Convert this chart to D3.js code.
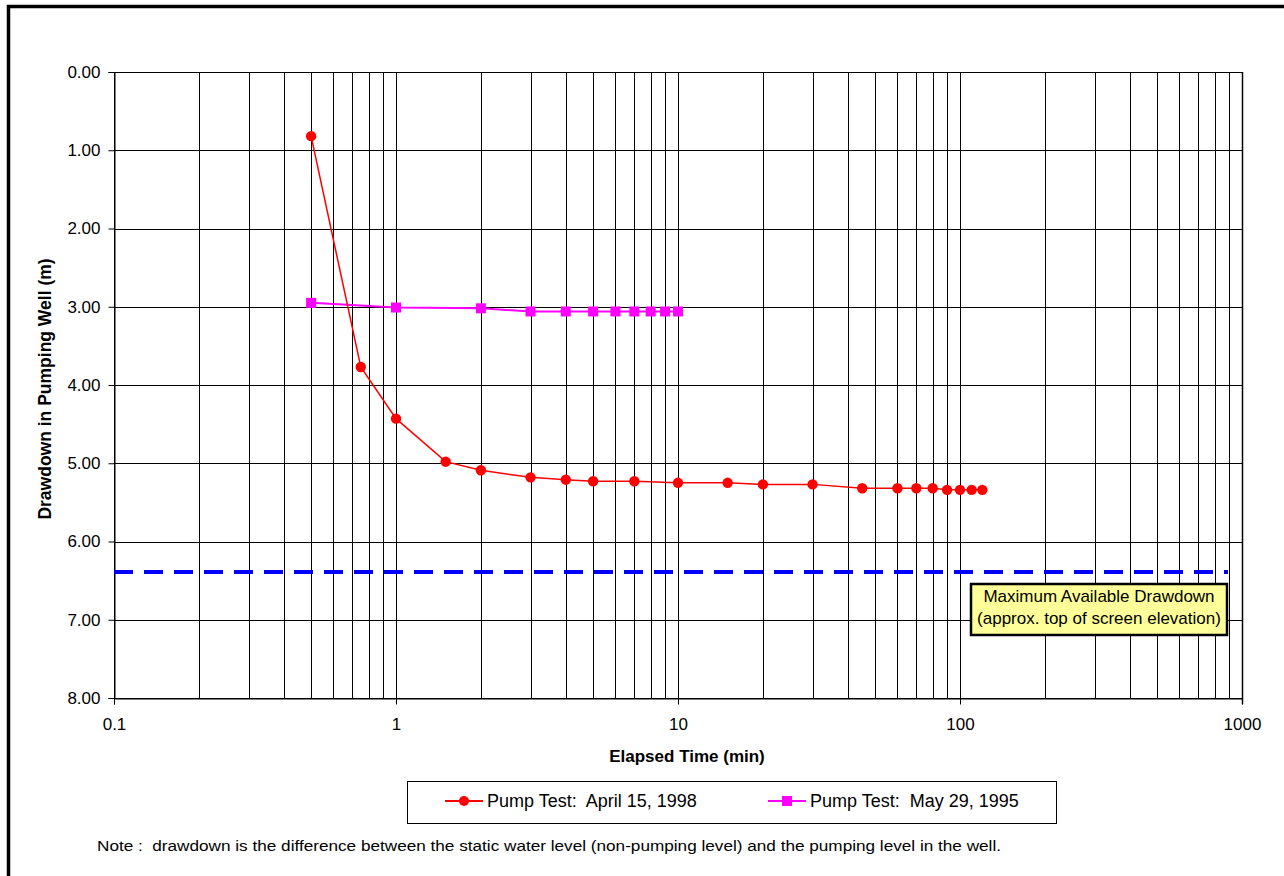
<!DOCTYPE html>
<meta charset="utf-8">
<style>
  body{ margin:0; background:#fff; }
  text{ font-family: Arial, "Liberation Sans", sans-serif; fill:#000; white-space: pre; }
</style>
<svg width="1284" height="876"></svg>
<script src="https://d3js.org/d3.v7.min.js"></script>
<script>
  // data
  const aprilTime = [0.5, 0.75, 1, 1.5, 2, 3, 4, 5, 7, 10, 15, 20, 30, 45, 60, 70, 80, 90, 100, 110, 120]
  const aprilDrawdown = [0.82, 3.77, 4.43, 4.98, 5.09, 5.18, 5.21, 5.23, 5.23, 5.25, 5.25, 5.27, 5.27, 5.32, 5.32, 5.32, 5.32, 5.34, 5.34, 5.34, 5.34]
  const mayTime = [0.5, 1, 2, 3, 4, 5, 6, 7, 8, 9, 10]
  const mayDrawdown = [2.95, 3.01, 3.02, 3.06, 3.06, 3.06, 3.06, 3.06, 3.06, 3.06, 3.06]
  const seriesNames = ['Pump Test:  April 15, 1998', 'Pump Test:  May 29, 1995']
  const maxDrawdown = 6.39
  const xTicks = [0.1, 1, 10, 100, 1000]
  const yTicks = [0, 1, 2, 3, 4, 5, 6, 7, 8]

  const plot = {left: 114, right: 1242, top: 72, bottom: 698}
  const font = 'Arial, "Liberation Sans", sans-serif'

  const svg = d3.select('svg')

  // outer frame (right/bottom edges fall outside the picture)
  svg.append('rect')
    .attr('x', 8.5).attr('y', 6.5)
    .attr('width', 1400).attr('height', 1000)
    .attr('fill', 'none').attr('stroke', '#000').attr('stroke-width', 3.5)

  const xScale = d3.scaleLog().domain([0.1, 1000]).range([plot.left, plot.right])
  const yScale = d3.scaleLinear().domain([0, 8]).range([plot.top, plot.bottom])

  // vertical grid lines, every 1..9 in each decade
  const minor = []
  for (let e = -1; e < 3; e++) {
    for (let m = 1; m < 10; m++) minor.push(m * Math.pow(10, e))
  }
  minor.push(1000)
  svg.append('g')
    .selectAll('line')
    .data(minor)
    .enter()
    .append('line')
    .attr('x1', d => Math.round(xScale(d)) + 0.5)
    .attr('x2', d => Math.round(xScale(d)) + 0.5)
    .attr('y1', plot.top).attr('y2', plot.bottom)
    .attr('stroke', '#000').attr('stroke-width', 1)

  // horizontal grid lines
  svg.append('g')
    .selectAll('line')
    .data(yTicks)
    .enter()
    .append('line')
    .attr('x1', plot.left).attr('x2', plot.right)
    .attr('y1', d => Math.round(yScale(d)) + 0.5)
    .attr('y2', d => Math.round(yScale(d)) + 0.5)
    .attr('stroke', '#000').attr('stroke-width', 1)

  // axes
  const xAxis = d3.axisBottom(xScale).tickValues(xTicks).tickFormat(d3.format('~g')).tickSize(6).tickPadding(13)
  const yAxis = d3.axisLeft(yScale).tickValues(yTicks).tickFormat(d3.format('.2f')).tickSize(6).tickPadding(8)

  const gx = svg.append('g')
    .attr('transform', 'translate(0,' + (plot.bottom + 0.5) + ')')
    .call(xAxis)
  const gy = svg.append('g')
    .attr('transform', 'translate(' + (plot.left + 0.5) + ',0)')
    .call(yAxis)
  ;[gx, gy].forEach(g => {
    g.attr('font-size', 17).attr('font-family', font)
    g.select('.domain').attr('stroke', '#000')
    g.selectAll('.tick line').attr('stroke', '#000')
    g.selectAll('text').attr('fill', '#000')
  })

  // right border of plot area
  svg.append('line')
    .attr('x1', plot.right + 0.5).attr('x2', plot.right + 0.5)
    .attr('y1', plot.top).attr('y2', plot.bottom + 6)
    .attr('stroke', '#000').attr('stroke-width', 1.5)

  // axis titles
  svg.append('text')
    .attr('x', 687).attr('y', 762)
    .attr('text-anchor', 'middle')
    .attr('font-size', 17).attr('font-weight', 'bold')
    .text('Elapsed Time (min)')
  svg.append('text')
    .attr('transform', 'translate(51,' + 389 + ') rotate(-90)')
    .attr('text-anchor', 'middle')
    .attr('font-size', 17.5).attr('font-weight', 'bold')
    .text('Drawdown in Pumping Well (m)')

  // maximum available drawdown line
  svg.append('line')
    .attr('x1', xScale(0.1)).attr('x2', xScale(1000) - 14)
    .attr('y1', yScale(maxDrawdown)).attr('y2', yScale(maxDrawdown))
    .attr('stroke', '#0000ff').attr('stroke-width', 4)
    .attr('stroke-dasharray', '19,11')

  const line = d3.line().x(d => xScale(d[0])).y(d => yScale(d[1]))

  const april = aprilTime.map((t, i) => [t, aprilDrawdown[i]])
  const may = mayTime.map((t, i) => [t, mayDrawdown[i]])

  // May 1995 series
  svg.append('path')
    .datum(may)
    .attr('d', line)
    .attr('fill', 'none').attr('stroke', '#ff00ff').attr('stroke-width', 2)
  svg.append('g')
    .selectAll('rect')
    .data(may)
    .enter()
    .append('rect')
    .attr('x', d => xScale(d[0]) - 5)
    .attr('y', d => yScale(d[1]) - 5)
    .attr('width', 10).attr('height', 10)
    .attr('fill', '#ff00ff')

  // April 1998 series
  svg.append('path')
    .datum(april)
    .attr('d', line)
    .attr('fill', 'none').attr('stroke', '#ff0000').attr('stroke-width', 1.5)
  svg.append('g')
    .selectAll('circle')
    .data(april)
    .enter()
    .append('circle')
    .attr('cx', d => xScale(d[0]))
    .attr('cy', d => yScale(d[1]))
    .attr('r', 5.2)
    .attr('fill', '#ff0000')

  // annotation box
  const note = svg.append('g')
  note.append('rect')
    .attr('x', 971).attr('y', 584)
    .attr('width', 256).attr('height', 51)
    .attr('fill', '#ffff99').attr('stroke', '#000').attr('stroke-width', 2.5)
  note.append('text')
    .attr('x', 1099).attr('y', 602)
    .attr('text-anchor', 'middle').attr('font-size', 17)
    .text('Maximum Available Drawdown')
  note.append('text')
    .attr('x', 1099).attr('y', 624)
    .attr('text-anchor', 'middle').attr('font-size', 17)
    .text('(approx. top of screen elevation)')

  // legend
  const legend = svg.append('g')
  legend.append('rect')
    .attr('x', 407.5).attr('y', 781.5)
    .attr('width', 649).attr('height', 42)
    .attr('fill', '#fff').attr('stroke', '#000').attr('stroke-width', 1)
  const legendItems = [
    {name: seriesNames[0], color: '#ff0000', x: 445, shape: 'circle'},
    {name: seriesNames[1], color: '#ff00ff', x: 768, shape: 'square'}
  ]
  legendItems.forEach(it => {
    legend.append('line')
      .attr('x1', it.x).attr('x2', it.x + 38)
      .attr('y1', 801).attr('y2', 801)
      .attr('stroke', it.color).attr('stroke-width', 2)
    if (it.shape === 'circle') {
      legend.append('circle').attr('cx', it.x + 19).attr('cy', 801).attr('r', 5).attr('fill', it.color)
    } else {
      legend.append('rect').attr('x', it.x + 14).attr('y', 796).attr('width', 10).attr('height', 10).attr('fill', it.color)
    }
    legend.append('text')
      .attr('x', it.x + 42).attr('y', 807)
      .attr('font-size', 18)
      .text(it.name)
  })

  // footnote
  svg.append('text')
    .attr('x', 97).attr('y', 851)
    .attr('font-size', 14)
    .attr('textLength', 904)
    .attr('lengthAdjust', 'spacingAndGlyphs')
    .text('Note :  drawdown is the difference between the static water level (non-pumping level) and the pumping level in the well.')
</script>
